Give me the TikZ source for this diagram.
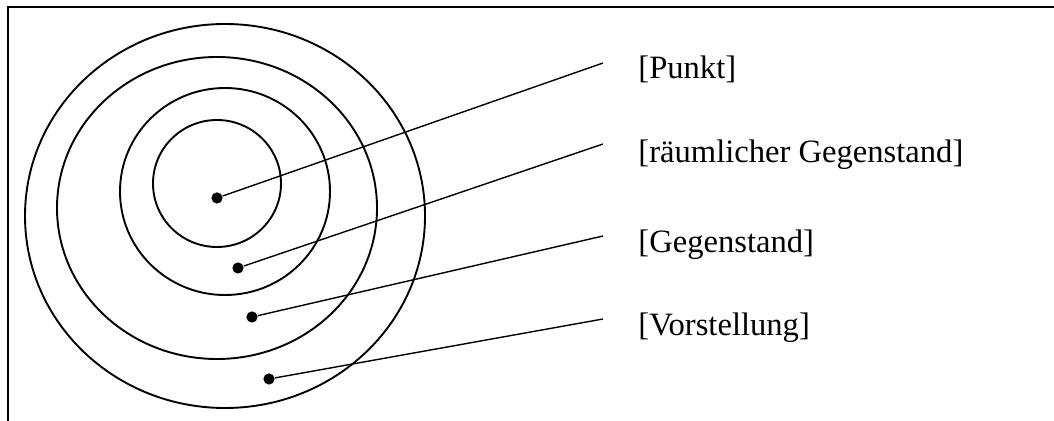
\documentclass[tikz,border=0pt]{standalone}
\usepackage{fontspec}
\setmainfont{Liberation Serif}
\begin{document}
\begin{tikzpicture}[x=0.5pt,y=-0.5pt,
  ring/.style={line width=0.95pt},
  pin/.style={circle,fill=black,inner sep=0pt,minimum size=5.6pt},
  lead/.style={line width=0.7pt},
  lab/.style={anchor=base west,inner sep=0pt,font=\fontsize{16.3}{19}\selectfont}]
\useasboundingbox (0,0) rectangle (1054,421);
\draw[line width=1.15pt] (8,421) -- (8,7) -- (1054,7);
\draw[ring] (217,183.5) ellipse [x radius=64, y radius=63.5];
\draw[ring] (225,191.5) ellipse [x radius=105, y radius=103.5];
\draw[ring] (217,208) ellipse [x radius=160, y radius=151];
\draw[ring] (225,216) ellipse [x radius=200, y radius=192];
\node[pin] (d1) at (217,198) {};
\node[pin] (d2) at (238,268) {};
\node[pin] (d3) at (252,317) {};
\node[pin] (d4) at (269,379) {};
\coordinate (e1) at (603,63);
\coordinate (e2) at (603,144);
\coordinate (e3) at (603,236);
\coordinate (e4) at (603,319);
\draw[lead] (d1) -- (e1);
\draw[lead] (d2) -- (e2);
\draw[lead] (d3) -- (e3);
\draw[lead] (d4) -- (e4);
\node[lab] (t1) at (638,79) {[Punkt]};
\node[lab] (t2) at (638,163) {[räumlicher Gegenstand]};
\node[lab] (t3) at (638,253) {[Gegenstand]};
\node[lab] (t4) at (638,336) {[Vorstellung]};
\end{tikzpicture}
\end{document}
